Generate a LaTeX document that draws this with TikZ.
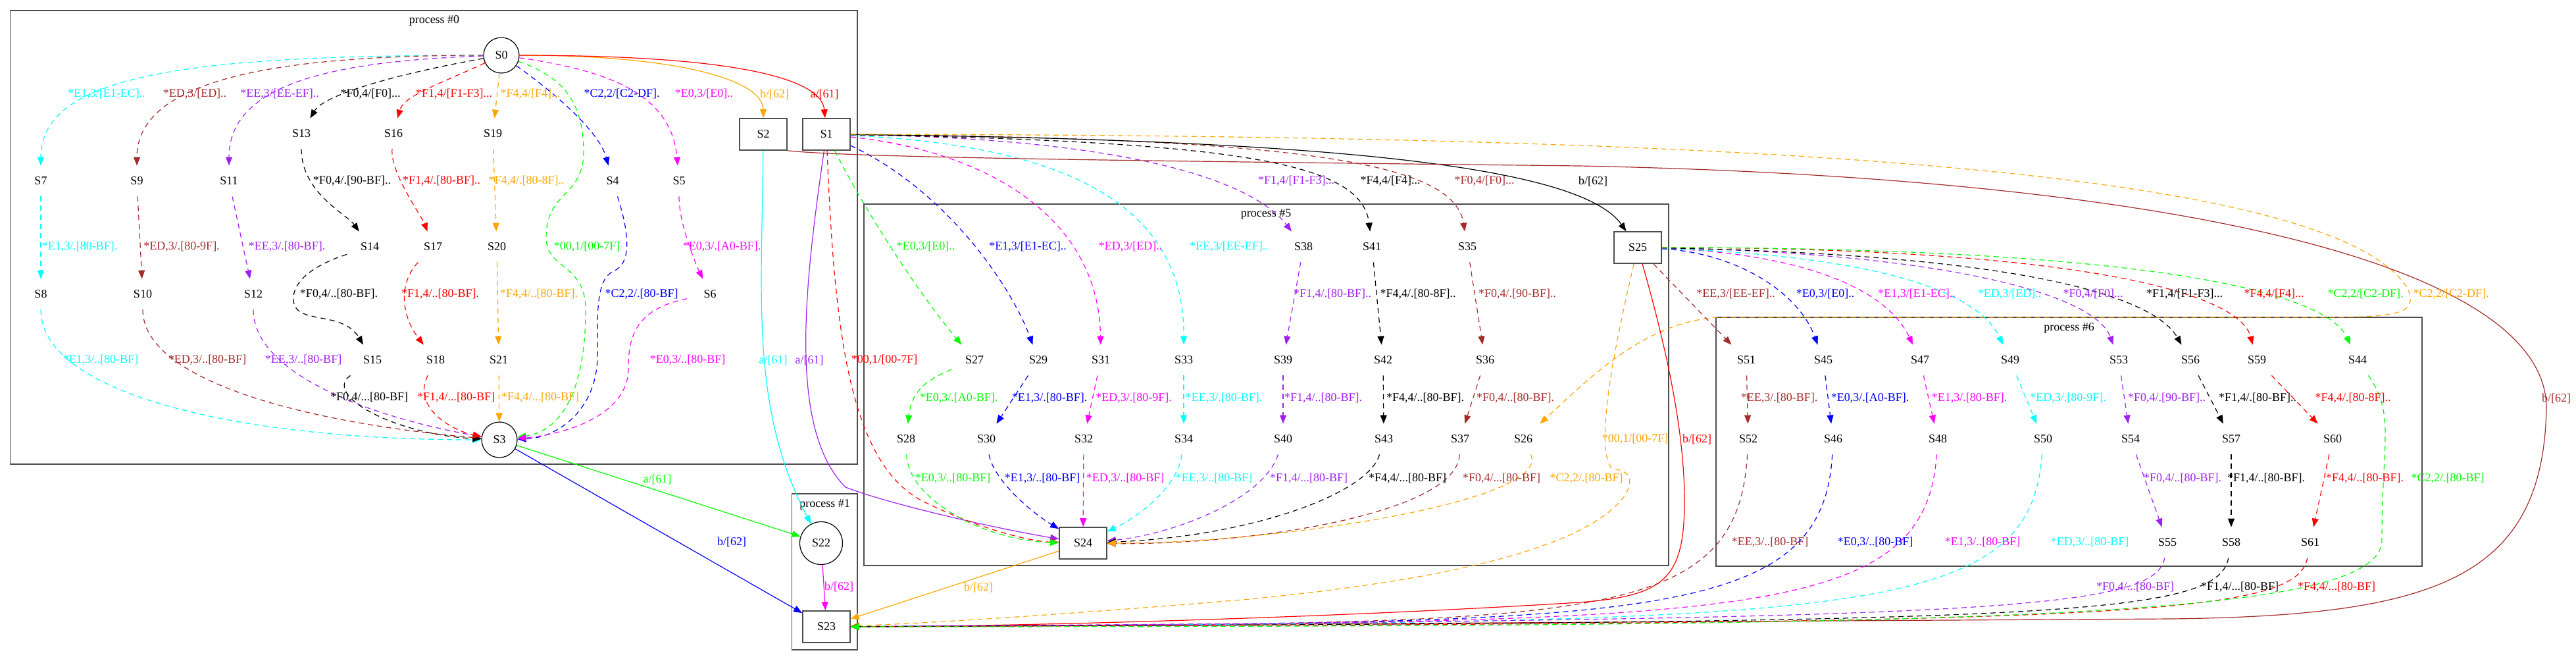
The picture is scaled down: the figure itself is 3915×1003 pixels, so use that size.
\documentclass[tikz,border=0pt]{standalone}
\usepackage{fontspec}
\setmainfont{Liberation Serif}
\usetikzlibrary{arrows.meta}
\definecolor{gvcyan}{RGB}{0,255,255}
\definecolor{gvbrown}{RGB}{165,42,42}
\definecolor{gvpurple}{RGB}{160,32,240}
\definecolor{gvorange}{RGB}{255,165,0}
\definecolor{gvgreen}{RGB}{0,255,0}
\definecolor{gvblue}{RGB}{0,0,255}
\definecolor{gvmagenta}{RGB}{255,0,255}
\definecolor{gvred}{RGB}{255,0,0}
\begin{document}
\begin{tikzpicture}[x=0.5pt,y=0.5pt,
    every node/.style={font=\fontsize{9}{10}\selectfont},
    st/.style={minimum width=34.5pt,minimum height=23pt,inner sep=0pt},
    circ/.style={circle,draw,line width=0.6pt,minimum size=27pt,inner sep=0pt},
    box/.style={draw=black!70,line width=0.8pt,minimum width=36pt,minimum height=24pt,inner sep=0pt},
    frm/.style={draw=black!70,line width=0.8pt},
    lbl/.style={inner sep=1pt},
    tr/.style={-{Triangle[length=6.5pt,width=5pt]},line width=0.6pt},
    dsh/.style={tr,dash pattern=on 4pt off 3pt}
  ]
  \useasboundingbox (0,0) rectangle (3915,-1003);
  % clusters
  \draw[frm] (15.6,-15.7) rectangle (1302.7,-705);
  \node (p0) at (660,-31) {process \#0};
  \draw[frm] (1203.6,-750) rectangle (1302.7,-986.7);
  \node (p1) at (1253.6,-766) {process \#1};
  \draw[frm] (1313,-310) rectangle (2536,-859);
  \node (p5) at (1924,-326) {process \#5};
  \draw[frm] (2608,-482) rectangle (3681,-860);
  \node (p6) at (3144.5,-498) {process \#6};

  % process #0
  \node[circ] (S0) at (762,-84) {S0};
  \node[box] (S1) at (1256,-204) {S1};
  \node[box] (S2) at (1160,-204) {S2};
  \node[circ] (S3) at (759,-668) {S3};
  \node[st] (S4) at (931,-275) {S4};
  \node[st] (S5) at (1032,-275) {S5};
  \node[st] (S6) at (1079,-447) {S6};
  \node[st] (S7) at (62,-275) {S7};
  \node[st] (S8) at (62,-447) {S8};
  \node[st] (S9) at (208,-275) {S9};
  \node[st] (S10) at (217,-447) {S10};
  \node[st] (S11) at (348,-275) {S11};
  \node[st] (S12) at (385,-447) {S12};
  \node[st] (S13) at (458,-203) {S13};
  \node[st] (S14) at (562,-375) {S14};
  \node[st] (S15) at (566,-547) {S15};
  \node[st] (S16) at (598,-203) {S16};
  \node[st] (S17) at (658,-375) {S17};
  \node[st] (S18) at (662,-547) {S18};
  \node[st] (S19) at (749,-203) {S19};
  \node[st] (S20) at (755,-375) {S20};
  \node[st] (S21) at (758,-547) {S21};
  % process #1
  \node[circ,minimum size=32.5pt] (S22) at (1248,-825) {S22};
  \node[box] (S23) at (1256,-952) {S23};
  % process #5
  \node[box] (S24) at (1646,-825) {S24};
  \node[box] (S25) at (2489,-376) {S25};
  \node[st] (S26) at (2315,-667) {S26};
  \node[st] (S27) at (1481,-547) {S27};
  \node[st] (S28) at (1377,-667) {S28};
  \node[st] (S29) at (1578,-547) {S29};
  \node[st] (S30) at (1499,-667) {S30};
  \node[st] (S31) at (1673,-547) {S31};
  \node[st] (S32) at (1647,-667) {S32};
  \node[st] (S33) at (1799,-547) {S33};
  \node[st] (S34) at (1799,-667) {S34};
  \node[st] (S35) at (2230,-375) {S35};
  \node[st] (S36) at (2257,-547) {S36};
  \node[st] (S37) at (2219,-667) {S37};
  \node[st] (S38) at (1981,-375) {S38};
  \node[st] (S39) at (1950,-547) {S39};
  \node[st] (S40) at (1950,-667) {S40};
  \node[st] (S41) at (2085,-375) {S41};
  \node[st] (S42) at (2102,-547) {S42};
  \node[st] (S43) at (2103,-667) {S43};
  % process #6
  \node[st] (S44) at (3583,-547) {S44};
  \node[st] (S45) at (2771,-547) {S45};
  \node[st] (S46) at (2786,-667) {S46};
  \node[st] (S47) at (2918,-547) {S47};
  \node[st] (S48) at (2945,-667) {S48};
  \node[st] (S49) at (3055,-547) {S49};
  \node[st] (S50) at (3105,-667) {S50};
  \node[st] (S51) at (2654,-547) {S51};
  \node[st] (S52) at (2657,-667) {S52};
  \node[st] (S53) at (3220,-547) {S53};
  \node[st] (S54) at (3238,-667) {S54};
  \node[st] (S55) at (3294,-824) {S55};
  \node[st] (S56) at (3329,-547) {S56};
  \node[st] (S57) at (3391,-667) {S57};
  \node[st] (S58) at (3391,-824) {S58};
  \node[st] (S59) at (3430,-547) {S59};
  \node[st] (S60) at (3545,-667) {S60};
  \node[st] (S61) at (3511,-824) {S61};

  % edges of process #0
  \draw[dsh,gvcyan] (S0) .. controls +(180:460) and +(90:165) .. (S7);
  \draw[dsh,gvbrown] (S0) .. controls +(180:320) and +(90:160) .. (S9);
  \draw[dsh,gvpurple] (S0) .. controls +(182:250) and +(90:150) .. (S11);
  \draw[dsh] (S0) .. controls +(190:150) and +(60:70) .. (S13);
  \draw[dsh,gvred] (S0) .. controls +(205:100) and +(75:60) .. (S16);
  \draw[dsh,gvorange] (S0) -- (S19);
  \draw[dsh,gvgreen] (S0) .. controls (850,-115) and (887,-150) .. (887,-230) .. controls (887,-300) and (830,-290) .. (830,-360) .. controls (830,-410) and (890,-400) .. (890,-470) .. controls (890,-600) and (850,-655) .. (S3);
  \draw[dsh,gvblue] (S0) .. controls +(-35:90) and +(105:80) .. (S4);
  \draw[dsh,gvmagenta] (S0) .. controls +(-8:170) and +(95:130) .. (S5);
  \draw[tr,gvorange] (S0) .. controls +(0:280) and +(90:80) .. (S2);
  \draw[tr,gvred] (S0) .. controls +(0:380) and +(95:80) .. (S1);
  \draw[dsh,gvcyan] (S7) -- (S8);
  \draw[dsh,gvbrown] (S9) -- (S10);
  \draw[dsh,gvpurple] (S11) -- (S12);
  \draw[dsh] (S13) .. controls +(-90:90) and +(125:60) .. (S14);
  \draw[dsh,gvred] (S16) .. controls +(-95:60) and +(110:50) .. (S17);
  \draw[dsh,gvorange] (S19) -- (S20);
  \draw[dsh,gvblue] (S4) .. controls (955,-350) and (962,-400) .. (932,-412) .. controls (905,-425) and (908,-480) .. (908,-540) .. controls (908,-620) and (850,-665) .. (S3);
  \draw[dsh,gvmagenta] (S5) .. controls +(-90:70) and +(115:40) .. (S6);
  \draw[dsh,gvcyan] (S8) .. controls +(-90:150) and +(180:400) .. (S3);
  \draw[dsh,gvbrown] (S10) .. controls +(-90:130) and +(175:300) .. (S3);
  \draw[dsh,gvpurple] (S12) .. controls +(-90:120) and +(170:200) .. (S3);
  \draw[dsh] (S14) .. controls (470,-405) and (445,-430) .. (446,-455) .. controls (447,-495) and (520,-470) .. (S15);
  \draw[dsh,gvred] (S17) .. controls (605,-430) and (610,-480) .. (S18);
  \draw[dsh,gvorange] (S20) -- (S21);
  \draw[dsh,gvmagenta] (S6) .. controls (960,-470) and (955,-520) .. (955,-560) .. controls (955,-630) and (860,-660) .. (S3);
  \draw[dsh] (S15) .. controls (490,-600) and (600,-660) .. (S3);
  \draw[dsh,gvred] (S18) .. controls (625,-620) and (690,-655) .. (S3);
  \draw[dsh,gvorange] (S21) -- (S3);

  % edges into process #1
  \draw[tr,gvgreen] (S3) -- (S22);
  \draw[tr,gvblue] (S3) -- (S23);
  \draw[tr,gvmagenta] (S22) -- (S23);
  \draw[tr,gvcyan] (S2) .. controls (1158,-450) and (1140,-620) .. (S22);

  % edges into process #5
  \draw[tr,gvpurple] (S1) .. controls (1225,-420) and (1195,-650) .. (1285,-740) .. controls (1350,-765) and (1500,-800) .. (S24);
  \draw[dsh,gvred] (S1) .. controls (1268,-500) and (1290,-700) .. (1400,-760) .. controls (1480,-800) and (1560,-822) .. (S24);
  \draw[dsh,gvgreen] (S1) .. controls (1320,-330) and (1400,-450) .. (S27);
  \draw[dsh,gvblue] (S1) .. controls +(-25:200) and +(110:120) .. (S29);
  \draw[dsh,gvmagenta] (S1) .. controls (1500,-230) and (1670,-330) .. (S31);
  \draw[dsh,gvcyan] (S1) .. controls (1600,-220) and (1800,-300) .. (S33);
  \draw[dsh,gvpurple] (S1) .. controls (1700,-210) and (1900,-270) .. (S38);
  \draw[dsh] (S1) .. controls (1900,-215) and (2070,-250) .. (S41);
  \draw[dsh,gvbrown] (S1) .. controls (2000,-210) and (2210,-250) .. (S35);
  \draw[tr] (S1) .. controls (2000,-212) and (2400,-250) .. (S25);
  \draw[dsh,gvorange] (S1) .. controls (2600,-205) and (3550,-250) .. (3660,-440) .. controls (3675,-480) and (3640,-482) .. (3500,-482) -- (2610,-482) .. controls (2500,-490) and (2420,-570) .. (S26);
  \draw[tr,gvbrown] (S2.south east) .. controls (1300,-240) and (1800,-245) .. (2400,-252) .. controls (3300,-270) and (3870,-400) .. (3870,-620) .. controls (3865,-880) and (3700,-935) .. (3300,-940) -- (S23);
  \draw[tr,gvred] (S25) .. controls (2530,-520) and (2560,-650) .. (2560,-760) .. controls (2560,-880) and (2530,-905) .. (2400,-915) .. controls (2000,-940) and (1500,-952) .. (S23);
  \draw[dsh,gvorange] (S25) .. controls (2460,-500) and (2420,-680) .. (2450,-712) .. controls (2480,-715) and (2482,-730) .. (2470,-752) .. controls (2400,-850) and (2100,-890) .. (1900,-910) .. controls (1600,-935) and (1400,-947) .. (S23);

  % edges of process #5
  \draw[dsh,gvgreen] (S27) .. controls (1400,-580) and (1385,-600) .. (S28);
  \draw[dsh,gvblue] (S29) -- (S30);
  \draw[dsh,gvmagenta] (S31) -- (S32);
  \draw[dsh,gvcyan] (S33) -- (S34);
  \draw[dsh,gvpurple] (S38) -- (S39);
  \draw[dsh,gvpurple] (S39) -- (S40);
  \draw[dsh] (S41) -- (S42);
  \draw[dsh] (S42) -- (S43);
  \draw[dsh,gvbrown] (S35) -- (S36);
  \draw[dsh,gvbrown] (S36) -- (S37);
  \draw[dsh,gvgreen] (S28) .. controls (1380,-760) and (1500,-822) .. (S24);
  \draw[dsh,gvblue] (S30) .. controls (1510,-730) and (1570,-780) .. (S24);
  \draw[dsh,gvmagenta] (S32) -- (S24);
  \draw[dsh,gvcyan] (S34) .. controls (1790,-740) and (1730,-785) .. (S24);
  \draw[dsh,gvpurple] (S40) .. controls (1920,-760) and (1780,-812) .. (S24);
  \draw[dsh] (S43) .. controls (2080,-750) and (1900,-815) .. (S24);
  \draw[dsh,gvbrown] (S37) .. controls (2215,-780) and (1900,-828) .. (S24);
  \draw[dsh,gvorange] (S26) .. controls (2360,-760) and (1950,-825) .. (S24);
  \draw[tr,gvorange] (S24) -- (S23);

  % edges into process #6
  \draw[dsh,gvbrown] (S25) -- (S51);
  \draw[dsh,gvblue] (S25) .. controls +(-3:150) and +(110:110) .. (S45);
  \draw[dsh,gvmagenta] (S25) .. controls +(-2:250) and +(115:120) .. (S47);
  \draw[dsh,gvcyan] (S25) .. controls +(-2:350) and +(115:120) .. (S49);
  \draw[dsh,gvpurple] (S25) .. controls +(-1:450) and +(110:110) .. (S53);
  \draw[dsh] (S25) .. controls +(-1:550) and +(120:120) .. (S56);
  \draw[dsh,gvred] (S25) .. controls +(0:650) and +(105:110) .. (S59);
  \draw[dsh,gvgreen] (S25) .. controls +(0:800) and +(115:110) .. (S44);

  % edges of process #6
  \draw[dsh,gvbrown] (S51) -- (S52);
  \draw[dsh,gvblue] (S45) -- (S46);
  \draw[dsh,gvmagenta] (S47) -- (S48);
  \draw[dsh,gvcyan] (S49) -- (S50);
  \draw[dsh,gvpurple] (S53) -- (S54);
  \draw[dsh] (S56) -- (S57);
  \draw[dsh,gvred] (S59) -- (S60);
  \draw[dsh,gvpurple] (S54) -- (S55);
  \draw[dsh] (S57) -- (S58);
  \draw[dsh,gvred] (S60) -- (S61);
  \draw[dsh,gvbrown] (S52) .. controls (2640,-960) and (2400,-945) .. (S23);
  \draw[dsh,gvblue] (S46) .. controls (2770,-955) and (2480,-945) .. (S23);
  \draw[dsh,gvmagenta] (S48) .. controls (2925,-950) and (2640,-944) .. (S23);
  \draw[dsh,gvcyan] (S50) .. controls (3085,-950) and (2800,-943) .. (S23);
  \draw[dsh,gvpurple] (S55) .. controls (3275,-930) and (3000,-940) .. (S23);
  \draw[dsh] (S58) .. controls (3370,-940) and (3100,-945) .. (S23);
  \draw[dsh,gvred] (S61) .. controls (3490,-940) and (3200,-947) .. (S23);
  \draw[dsh,gvgreen] (S44) .. controls +(-55:100) and +(90:150) .. (3620,-820) .. controls +(-90:120) and +(0:1800) .. (S23);

  % labels, process #0
  \node[lbl,gvcyan] (t0-7) at (162,-143) {*E1,3/[E1-EC]..};
  \node[lbl,gvbrown] (t0-9) at (296,-143) {*ED,3/[ED]..};
  \node[lbl,gvpurple] (t0-11) at (425,-143) {*EE,3/[EE-EF]..};
  \node[lbl] (t0-13) at (563,-143) {*F0,4/[F0]...};
  \node[lbl,gvred] (t0-16) at (690,-143) {*F1,4/[F1-F3]...};
  \node[lbl,gvorange] (t0-19) at (806,-143) {*F4,4/[F4]...};
  \node[lbl,gvblue] (t0-4) at (945,-143) {*C2,2/[C2-DF].};
  \node[lbl,gvmagenta] (t0-5) at (1070,-143) {*E0,3/[E0]..};
  \node[lbl,gvorange] (t0-2) at (1177,-143) {b/[62]};
  \node[lbl,gvred] (t0-1) at (1253,-143) {a/[61]};
  \node[lbl] (t13-14) at (535,-275) {*F0,4/.[90-BF]..};
  \node[lbl,gvred] (t16-17) at (671,-275) {*F1,4/.[80-BF]..};
  \node[lbl,gvorange] (t19-20) at (800,-275) {*F4,4/.[80-8F]..};
  \node[lbl,gvcyan] (t7-8) at (121,-375) {*E1,3/.[80-BF].};
  \node[lbl,gvbrown] (t9-10) at (276,-375) {*ED,3/.[80-9F].};
  \node[lbl,gvpurple] (t11-12) at (436,-375) {*EE,3/.[80-BF].};
  \node[lbl,gvgreen] (t0-3) at (892,-375) {*00,1/[00-7F]};
  \node[lbl,gvmagenta] (t5-6) at (1097,-375) {*E0,3/.[A0-BF].};
  \node[lbl] (t14-15) at (515,-447) {*F0,4/..[80-BF].};
  \node[lbl,gvred] (t17-18) at (669,-447) {*F1,4/..[80-BF].};
  \node[lbl,gvorange] (t20-21) at (819,-447) {*F4,4/..[80-BF].};
  \node[lbl,gvblue] (t4-3) at (975,-447) {*C2,2/.[80-BF]};
  \node[lbl,gvcyan] (t8-3) at (153,-547) {*E1,3/..[80-BF]};
  \node[lbl,gvbrown] (t10-3) at (315,-547) {*ED,3/..[80-BF]};
  \node[lbl,gvpurple] (t12-3) at (461,-547) {*EE,3/..[80-BF]};
  \node[lbl,gvmagenta] (t6-3) at (1045,-547) {*E0,3/..[80-BF]};
  \node[lbl,gvcyan] (t2-22) at (1175,-547) {a/[61]};
  \node[lbl,gvpurple] (t1-24a) at (1230,-547) {a/[61]};
  \node[lbl,gvred] (t1-24b) at (1344,-547) {*00,1/[00-7F]};
  \node[lbl] (t15-3) at (561,-604) {*F0,4/...[80-BF]};
  \node[lbl,gvred] (t18-3) at (693,-604) {*F1,4/...[80-BF]};
  \node[lbl,gvorange] (t21-3) at (821,-604) {*F4,4/...[80-BF]};
  % labels, process #1
  \node[lbl,gvgreen] (t3-22) at (999,-728) {a/[61]};
  \node[lbl,gvblue] (t3-23) at (1112,-823) {b/[62]};
  \node[lbl,gvmagenta] (t22-23) at (1275,-891) {b/[62]};
  % labels, process #5
  \node[lbl,gvgreen] (t1-27) at (1407,-375) {*E0,3/[E0]..};
  \node[lbl,gvblue] (t1-29) at (1562,-375) {*E1,3/[E1-EC]..};
  \node[lbl,gvmagenta] (t1-31) at (1718,-375) {*ED,3/[ED]..};
  \node[lbl,gvcyan] (t1-33) at (1868,-375) {*EE,3/[EE-EF]..};
  \node[lbl,gvpurple] (t1-38) at (1970,-275) {*F1,4/[F1-F3]...};
  \node[lbl] (t1-41) at (2113,-275) {*F4,4/[F4]...};
  \node[lbl,gvbrown] (t1-35) at (2256,-275) {*F0,4/[F0]...};
  \node[lbl] (t1-25) at (2421,-275) {b/[62]};
  \node[lbl,gvpurple] (t38-39) at (2025,-447) {*F1,4/.[80-BF]..};
  \node[lbl] (t41-42) at (2155,-447) {*F4,4/.[80-8F]..};
  \node[lbl,gvbrown] (t35-36) at (2306,-447) {*F0,4/.[90-BF]..};
  \node[lbl,gvgreen] (t27-28) at (1457,-605) {*E0,3/.[A0-BF].};
  \node[lbl,gvblue] (t29-30) at (1595,-605) {*E1,3/.[80-BF].};
  \node[lbl,gvmagenta] (t31-32) at (1723,-605) {*ED,3/.[80-9F].};
  \node[lbl,gvcyan] (t33-34) at (1860,-605) {*EE,3/.[80-BF].};
  \node[lbl,gvpurple] (t39-40) at (2011,-605) {*F1,4/..[80-BF].};
  \node[lbl] (t42-43) at (2166,-605) {*F4,4/..[80-BF].};
  \node[lbl,gvbrown] (t36-37) at (2303,-605) {*F0,4/..[80-BF].};
  \node[lbl,gvorange] (t25-23a) at (2485,-667) {*00,1/[00-7F]};
  \node[lbl,gvred] (t25-23b) at (2579,-667) {b/[62]};
  \node[lbl,gvgreen] (t28-24) at (1448,-727) {*E0,3/..[80-BF]};
  \node[lbl,gvblue] (t30-24) at (1584,-727) {*E1,3/..[80-BF]};
  \node[lbl,gvmagenta] (t32-24) at (1710,-727) {*ED,3/..[80-BF]};
  \node[lbl,gvcyan] (t34-24) at (1845,-727) {*EE,3/..[80-BF]};
  \node[lbl,gvpurple] (t40-24) at (1989,-727) {*F1,4/...[80-BF]};
  \node[lbl] (t43-24) at (2139,-727) {*F4,4/...[80-BF]};
  \node[lbl,gvbrown] (t37-24) at (2282,-727) {*F0,4/...[80-BF]};
  \node[lbl,gvorange] (t26-24) at (2411,-727) {*C2,2/.[80-BF]};
  \node[lbl,gvorange] (t24-23) at (1487,-892) {b/[62]};
  % labels, process #6
  \node[lbl,gvbrown] (t25-51) at (2638,-447) {*EE,3/[EE-EF]..};
  \node[lbl,gvblue] (t25-45) at (2774,-447) {*E0,3/[E0]..};
  \node[lbl,gvmagenta] (t25-47) at (2913,-447) {*E1,3/[E1-EC]..};
  \node[lbl,gvcyan] (t25-49) at (3054,-447) {*ED,3/[ED]..};
  \node[lbl,gvpurple] (t25-53) at (3181,-447) {*F0,4/[F0]...};
  \node[lbl] (t25-56) at (3320,-447) {*F1,4/[F1-F3]...};
  \node[lbl,gvred] (t25-59) at (3456,-447) {*F4,4/[F4]...};
  \node[lbl,gvgreen] (t25-44) at (3595,-447) {*C2,2/[C2-DF].};
  \node[lbl,gvorange] (t1-26) at (3725,-447) {*C2,2/[C2-DF].};
  \node[lbl,gvbrown] (t51-52) at (2704,-605) {*EE,3/.[80-BF].};
  \node[lbl,gvblue] (t45-46) at (2842,-605) {*E0,3/.[A0-BF].};
  \node[lbl,gvmagenta] (t47-48) at (2993,-605) {*E1,3/.[80-BF].};
  \node[lbl,gvcyan] (t49-50) at (3143,-605) {*ED,3/.[80-9F].};
  \node[lbl,gvpurple] (t53-54) at (3293,-605) {*F0,4/.[90-BF]..};
  \node[lbl] (t56-57) at (3431,-605) {*F1,4/.[80-BF]..};
  \node[lbl,gvred] (t59-60) at (3576,-605) {*F4,4/.[80-8F]..};
  \node[lbl,gvbrown] (t2-23) at (3885,-605) {b/[62]};
  \node[lbl,gvpurple] (t54-55) at (3317,-727) {*F0,4/..[80-BF].};
  \node[lbl] (t57-58) at (3444,-727) {*F1,4/..[80-BF].};
  \node[lbl,gvred] (t60-61) at (3594,-727) {*F4,4/..[80-BF].};
  \node[lbl,gvgreen] (t44-23) at (3720,-727) {*C2,2/.[80-BF]};
  \node[lbl,gvbrown] (t52-23) at (2690,-824) {*EE,3/..[80-BF]};
  \node[lbl,gvblue] (t46-23) at (2850,-824) {*E0,3/..[80-BF]};
  \node[lbl,gvmagenta] (t48-23) at (3013,-824) {*E1,3/..[80-BF]};
  \node[lbl,gvcyan] (t50-23) at (3176,-824) {*ED,3/..[80-BF]};
  \node[lbl,gvpurple] (t55-23) at (3245,-892) {*F0,4/...[80-BF]};
  \node[lbl] (t58-23) at (3404,-892) {*F1,4/...[80-BF]};
  \node[lbl,gvred] (t61-23) at (3551,-892) {*F4,4/...[80-BF]};
\end{tikzpicture}
\end{document}
